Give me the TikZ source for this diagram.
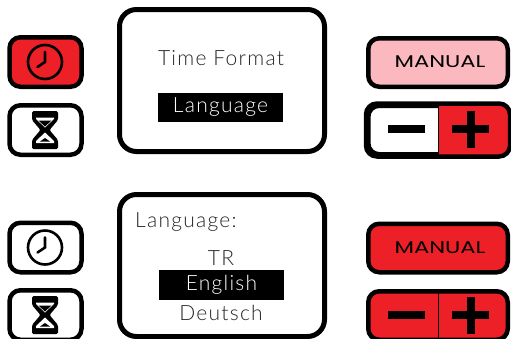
\documentclass[tikz,border=0pt]{standalone}
\usepackage{fontspec}
\newfontfamily\lcdfont[LetterSpace=6]{Lato Light}
\newfontfamily\manualfont{Poppins}
\definecolor{panelred}{HTML}{EE2027}
\definecolor{panelpink}{HTML}{FBB8BE}
\tikzset{
	keybox/.style={draw=black, line width=4.5pt, rounded corners=11pt, minimum width=72pt, minimum height=49.5pt, inner sep=0pt},
	widebox/.style={keybox, minimum width=139.5pt, minimum height=48.5pt},
	screenbox/.style={draw=black, line width=5pt, rounded corners=17pt, minimum width=205pt, minimum height=142pt, inner sep=0pt},
	lcdtext/.style={font=\lcdfont\fontsize{21}{21}\selectfont, text=black!85, inner sep=0pt},
	lcdbar/.style={fill=black, minimum width=125pt, minimum height=29pt, inner sep=0pt},
	manualtext/.style={font=\manualfont\fontsize{17}{17}\selectfont, xscale=1.33, inner sep=0pt}
}
\begin{document}
\begin{tikzpicture}[x=1pt, y=-1pt]
	\useasboundingbox (0,0) rectangle (511,338);
	
	%//screens
	\node [screenbox] (screentop) at (222,80.5) {};
	\node [screenbox] (screenbot) at (222,265.5) {};
	
	\node [lcdtext] (timeformat) at (221,58) {Time Format};
	\node [lcdbar] (bartop) at (220.5,107) {};
	\node [lcdtext, text=white] (language) at (220.5,107) {Language};
	
	\node [lcdtext, anchor=west] (languagehead) at (135,222) {Language:};
	\node [lcdtext] (tr) at (221,258) {TR};
	\node [lcdbar, minimum height=30pt] (barbot) at (221.5,285) {};
	\node [lcdtext, text=white] (english) at (221.5,285) {English};
	\node [lcdtext] (deutsch) at (221,313) {Deutsch};
	
	%//keys on the left
	\node [keybox, fill=panelred] (clocktop) at (45.5,62) {};
	\node [keybox] (glasstop) at (45.5,130) {};
	\node [keybox] (clockbot) at (45.5,247.5) {};
	\node [keybox] (glassbot) at (45.5,315) {};
	
	\foreach \y in {62,247.5}
	{
		\draw [line width=2.6pt] (45,\y) circle (17);
		\draw [line width=2.6pt, line cap=round, line join=miter] (45,\y-10) -- (45,\y) -- (37.5,\y+5);
	}
	
	\foreach \y in {130,315}
	{
		\fill [rounded corners=1.5pt] (32,\y-19) -- (58,\y-19) -- (58,\y-10) -- (49.5,\y) -- (58,\y+10) -- (58,\y+19) -- (32,\y+19) -- (32,\y+10) -- (40.5,\y) -- (32,\y-10) -- cycle;
		\fill [white] (36,\y-12.5) -- (54,\y-12.5) -- (54,\y-11) -- (45,\y-2.5) -- (36,\y-11) -- cycle;
		\fill [white] (45,\y+2.5) -- (54,\y+11) -- (54,\y+13) -- (36,\y+13) -- (36,\y+11) -- cycle;
		\fill (38.5,\y-9.5) -- (51.5,\y-9.5) -- (45,\y-3.5) -- cycle;
		\fill (45,\y+8) -- (50,\y+11.5) -- (40,\y+11.5) -- cycle;
	}
	
	%//keys on the right
	\node [widebox, fill=panelpink] (manualtop) at (438,62.5) {};
	\node [widebox, fill=panelred] (manualbot) at (438,248) {};
	\node [manualtext] (manualtoplabel) at (440,62) {MANUAL};
	\node [manualtext] (manualbotlabel) at (440,247.5) {MANUAL};
	
	\node [widebox] (stepstop) at (438,130) {};
	\node [widebox, fill=panelred] (stepsbot) at (438,315.5) {};
	\begin{scope}
		\clip [rounded corners=11pt] (stepstop.south west) rectangle (stepstop.north east);
		\fill [panelred] (438.7,105) rectangle (510,155);
	\end{scope}
	\draw [line width=4.5pt, rounded corners=11pt] (stepstop.south west) rectangle (stepstop.north east);
	\draw [line width=1.2pt] (stepstop.north) ++(0.7,0) -- (438.7,155);
	\draw [line width=1.2pt] (stepsbot.north) ++(0.7,0) -- (438.7,338);
	
	\foreach \y in {129,315}
	{
		\fill (388,\y-4) rectangle (425,\y+4);
		\fill (452,\y-4) rectangle (489,\y+4);
		\fill (467,\y-18.5) rectangle (475,\y+18.5);
	}
\end{tikzpicture}
\end{document}
